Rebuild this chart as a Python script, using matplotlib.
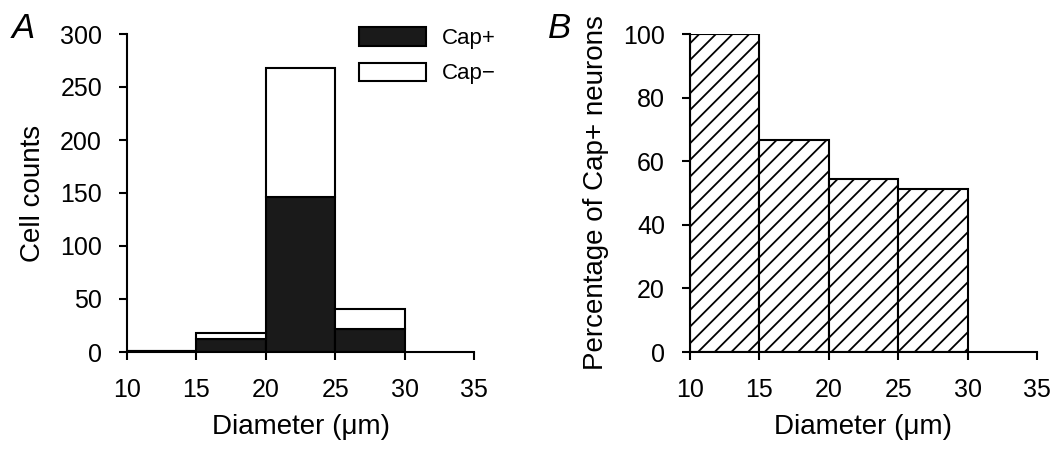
import numpy as np
import matplotlib.pyplot as plt

plt.rcParams['font.family'] = ['Liberation Sans', 'DejaVu Sans']
plt.rcParams['hatch.linewidth'] = 1.3

# bin edges (left) and width in um
bin_left = [10, 15, 20, 25]
bin_width = 5

# panel A: cell counts
cap_pos = [1, 12, 146, 22]
cap_neg = [0, 6, 122, 19]

# panel B: percentage of Cap+ neurons
pct_cap_pos = [100, 66.7, 54.5, 51.2]

xticks = [10, 15, 20, 25, 30, 35]

fig = plt.figure(figsize=(10.62, 4.49), dpi=100)
axA = fig.add_axes([127/1062, 1 - 352/449, (474 - 127)/1062, (352 - 34)/449])
axB = fig.add_axes([690/1062, 1 - 352/449, (1037 - 690)/1062, (352 - 34)/449])

# A: stacked histogram
axA.bar(bin_left, cap_pos, width=bin_width, align='edge', color='#1a1a1a',
        edgecolor='black', linewidth=1.5, label='Cap+')
axA.bar(bin_left, cap_neg, width=bin_width, align='edge', bottom=cap_pos,
        color='white', edgecolor='black', linewidth=1.5, label='Cap\u2212')
axA.set_ylim(0, 300)
axA.set_yticks([0, 50, 100, 150, 200, 250, 300])
axA.set_ylabel('Cell counts', fontsize=20, labelpad=10)
axA.legend(loc='upper left', bbox_to_anchor=(0.625, 1.07), frameon=False,
           fontsize=16, handlelength=3.0, handleheight=0.9,
           labelspacing=0.6, handletextpad=0.7, borderpad=0.2)

# B: percentage histogram with hatching
axB.bar(bin_left, pct_cap_pos, width=bin_width, align='edge', color='white',
        edgecolor='black', linewidth=1.5, hatch='//')
axB.set_ylim(0, 100)
axB.set_yticks([0, 20, 40, 60, 80, 100])
axB.set_ylabel('Percentage of Cap+ neurons', fontsize=20, labelpad=10)

for ax in (axA, axB):
    ax.set_xlim(10, 35)
    ax.set_xticks(xticks)
    ax.spines['top'].set_visible(False)
    ax.spines['right'].set_visible(False)
    ax.spines['left'].set_linewidth(1.5)
    ax.spines['bottom'].set_linewidth(1.5)
    ax.tick_params(direction='out', length=6, width=1.5, labelsize=18, pad=13)
    ax.tick_params(axis='y', pad=12)
    ax.set_xlabel('Diameter (\u03bcm)', fontsize=20, labelpad=8)

fig.text(12/1062, 1 - 38/449, 'A', fontsize=25, fontstyle='italic')
fig.text(548/1062, 1 - 38/449, 'B', fontsize=25, fontstyle='italic')

fig.savefig('out.png', dpi=100)
